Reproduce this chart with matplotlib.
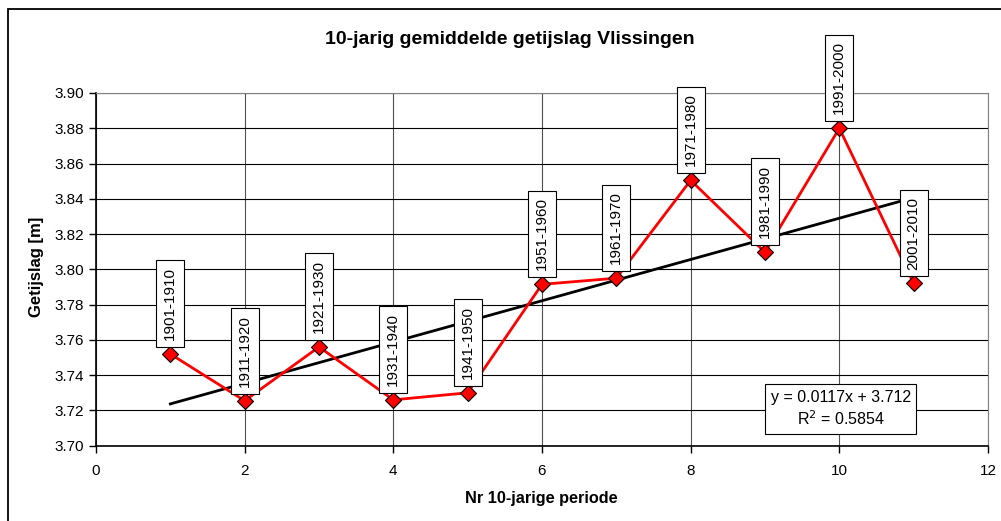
"""10-jarig gemiddelde getijslag Vlissingen, with linear trendline."""

import matplotlib
matplotlib.use("Agg")
import matplotlib.pyplot as plt
from matplotlib.patches import Rectangle
import numpy as np

plt.rcParams["font.family"] = ["Liberation Sans", "DejaVu Sans"]

periode_nr = [1, 2, 3, 4, 5, 6, 7, 8, 9, 10, 11]
getijslag = [3.752, 3.7255, 3.756, 3.726, 3.730, 3.7915, 3.795, 3.8505, 3.8097, 3.880, 3.792]
periode_labels = ["1901-1910", "1911-1920", "1921-1930", "1931-1940", "1941-1950",
                  "1951-1960", "1961-1970", "1971-1980", "1981-1990", "1991-2000",
                  "2001-2010"]
trend_slope = 0.0117
trend_intercept = 3.712
trend_r2 = 0.5854


def main() -> None:
    W, H = 1001, 521
    fig = plt.figure(figsize=(W / 100, H / 100), dpi=100)
    ax = fig.add_axes([96 / W, (H - 445.7) / H, (988 - 96) / W, (445.7 - 93) / H])

    # chart area border (cropped at right/bottom like the original)
    fig.patches.append(Rectangle((8 / W, -0.1), 1.2, 1 - 9 / H + 0.1, transform=fig.transFigure,
                                 fill=False, edgecolor="black", linewidth=1.3))

    x = np.array(periode_nr)
    y = np.array(getijslag)

    ax.plot(x, y, color="red", linewidth=2, marker="D", markersize=8,
            markerfacecolor="red", markeredgecolor="black", markeredgewidth=0.8, zorder=4)
    xt = np.array([x.min(), x.max()])
    ax.plot(xt, trend_slope * xt + trend_intercept, color="black", linewidth=2, zorder=3)

    for xi, yi, lab in zip(x, y, periode_labels):
        ax.annotate(lab, (xi, yi), xytext=(0, 10), textcoords="offset points",
                    rotation=90, ha="center", va="bottom", fontsize=11,
                    bbox=dict(boxstyle="square,pad=0.45", facecolor="white",
                              edgecolor="black", linewidth=0.8),
                    zorder=5, annotation_clip=False)

    ax.text(10.02, 3.7208, f"y = {trend_slope}x + {trend_intercept}\nR$^2$ = {trend_r2}",
            ha="center", va="center", fontsize=11.5, linespacing=1.3,
            bbox=dict(boxstyle="square,pad=0.35", facecolor="white", edgecolor="black",
                      linewidth=0.8), zorder=6)

    ax.set_xlim(0, 12)
    ax.set_ylim(3.70, 3.90)
    ax.set_xticks(np.arange(0, 13, 2))
    ax.set_yticks(np.arange(3.70, 3.901, 0.02))
    ax.set_yticklabels([f"{v:.2f}" for v in np.arange(3.70, 3.901, 0.02)])
    ax.tick_params(labelsize=11, length=5, width=1, direction="out", color="black")
    ax.tick_params(axis="x", pad=8)
    ax.grid(True, axis="y", color="black", linewidth=0.8)
    ax.grid(True, axis="x", color="#505050", linewidth=0.8)
    ax.set_axisbelow(True)
    for side in ("top", "right"):
        ax.spines[side].set_color("#808080")
    for side in ("left", "bottom"):
        ax.spines[side].set_color("black")
        ax.spines[side].set_linewidth(1.2)

    fig.text(37 / W, 1 - 267 / H, "Getijslag [m]", rotation=90, ha="center", va="center",
             fontsize=12, fontweight="bold")
    fig.text(541 / W, 1 - 498 / H, "Nr 10-jarige periode", ha="center", va="center",
             fontsize=11.7, fontweight="bold")
    fig.text(510 / W, 1 - 40 / H, "10-jarig gemiddelde getijslag Vlissingen",
             ha="center", va="center", fontsize=14, fontweight="bold")

    fig.savefig("out.png", dpi=100)


if __name__ == "__main__":
    main()
